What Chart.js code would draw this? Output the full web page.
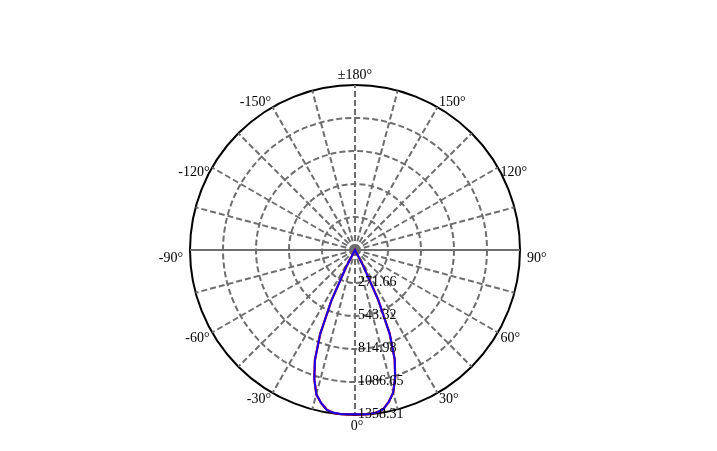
<!DOCTYPE html>
<html>
<head>
<meta charset="utf-8">
<script src="https://cdn.jsdelivr.net/npm/chart.js@4/dist/chart.umd.min.js"></script>
<style>
  html, body { margin: 0; padding: 0; background: #fff; }
  #wrap { width: 717px; height: 451px; }
</style>
</head>
<body>
<div id="wrap"><canvas id="polar" width="717" height="451"></canvas></div>
<script>
/* Polar intensity diagram (cd), 0° at the bottom, ±180° at the top. */
const STEP_DEG = 2.5;                 // angular resolution of the radar categories
const radialTicks = [0, 271.66, 543.32, 814.98, 1086.65, 1358.31];
const radialTickLabels = ["", "271.66", "543.32", "814.98", "1086.65", "1358.31"];
// labels every 30°, going clockwise on screen from the bottom
const angleTickLabels = ["0°", "-30°", "-60°", "-90°", "-120°", "-150°",
                         "±180°", "150°", "120°", "90°", "60°", "30°"];

// lobe, |angle| from the 0° axis
const lobeAngles     = [0, 2.5, 5, 7.5, 10, 12.5, 15, 17.5, 20, 22.5, 25, 27.5, 30];
const leftIntensity  = [1352, 1354, 1356, 1352, 1336, 1290, 1230, 1114, 965, 750, 460, 160, 0];
const rightIntensity = [1352, 1354, 1356, 1350, 1332, 1282, 1215, 1100, 955, 745, 450, 140, 0];

const N = Math.round(360 / STEP_DEG);
const cats = [], curve = [];
for (let i = 0; i < N; i++) {
  const clockwise = i * STEP_DEG;            // screen-clockwise from bottom
  const theta = clockwise <= 180 ? -clockwise : 360 - clockwise;
  cats.push(theta);
  const k = lobeAngles.indexOf(Math.abs(theta));
  if (k < 0) curve.push(0);
  else curve.push(theta < 0 ? leftIntensity[k] : rightIntensity[k]);
}

const PER_LABEL = Math.round(30 / STEP_DEG);
const isMajor = i => i % Math.round(15 / STEP_DEG) === 0;
const isHoriz = i => (i * STEP_DEG) % 180 === 90;
const last = radialTicks.length - 1;
// small vertical nudges so the angle labels sit like the original
const nudgeY = {150: -2, 120: 6, 90: 8, 60: 4, 30: 4};

const polarText = {
  id: "polarText",
  afterDatasetsDraw(chart) {
    const s = chart.scales.r, ctx = chart.ctx;
    ctx.save();
    ctx.fillStyle = "#000";
    // radial values along the 0° spoke
    ctx.font = '14px "Liberation Serif"';
    ctx.textAlign = "left";
    ctx.textBaseline = "middle";
    s.ticks.forEach((t, i) => {
      if (!radialTickLabels[i]) return;
      const d = s.getDistanceFromCenterForValue(t.value);
      ctx.fillText(radialTickLabels[i], s.xCenter + 3, s.yCenter + d - 1);
    });
    // angle labels round the rim
    angleTickLabels.forEach((txt, k) => {
      const i = k * PER_LABEL, th = Math.abs(cats[i]);
      if (th === 0 || th === 180) {
        const p = s.getPointPosition(i, s.drawingArea + (th === 0 ? 4 : 3));
        ctx.textAlign = "center";
        ctx.textBaseline = th === 0 ? "top" : "bottom";
        ctx.fillText(txt, p.x + (th === 0 ? 2 : 0), p.y);
        return;
      }
      const p = s.getPointPosition(i, s.drawingArea + (th === 90 ? 7 : 3));
      ctx.textAlign = cats[i] < 0 ? "right" : "left";
      ctx.textBaseline = "middle";
      ctx.fillText(txt, p.x, p.y + nudgeY[th]);
    });
    ctx.restore();
  }
};

new Chart(document.getElementById("polar"), {
  type: "radar",
  data: {
    labels: cats,
    datasets: [
      {label: "C0-C180", data: curve, borderColor: "#1800ee", borderWidth: 2,
       pointRadius: 0, fill: false, tension: 0},
      {label: "C90-C270", data: curve, borderColor: "#d00000", borderWidth: 2.3,
       pointRadius: 0, fill: false, tension: 0}
    ]
  },
  options: {
    responsive: false,
    animation: false,
    layout: {padding: {top: 85, bottom: 35, left: 0, right: 7}},
    plugins: {legend: {display: false}, tooltip: {enabled: false}},
    scales: {
      r: {
        min: 0, max: radialTicks[last],
        startAngle: 180,
        afterBuildTicks: s => { s.ticks = radialTicks.map(v => ({value: v})); },
        ticks: {display: false},
        pointLabels: {display: false},
        grid: {
          circular: true,
          color: c => c.index === last ? "#000" : "#6e6e6e",
          lineWidth: 2
        },
        border: {dash: c => c.index === last ? [] : [6, 3]},
        angleLines: {
          color: c => isMajor(c.index) ? "#6e6e6e" : "rgba(0,0,0,0)",
          lineWidth: c => isMajor(c.index) ? 2 : 0,
          borderDash: c => isHoriz(c.index) ? [] : [6, 3]
        }
      }
    }
  },
  plugins: [polarText]
});
</script>
</body>
</html>
